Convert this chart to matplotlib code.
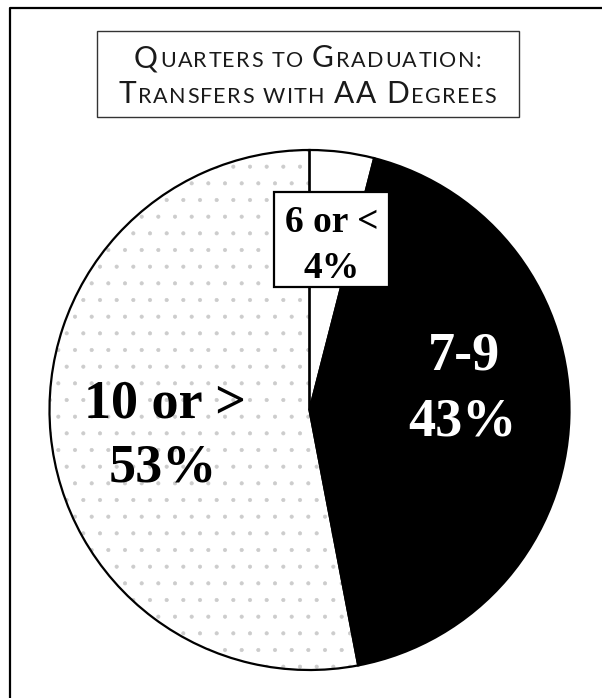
import matplotlib.pyplot as plt
from matplotlib.patches import Rectangle

# chart data
categories = ["6 or <", "7-9", "10 or >"]
shares = [4, 43, 53]
title_lines = ["Quarters to Graduation:", "Transfers with AA Degrees"]

W, H = 602, 698
plt.rcParams['hatch.color'] = '#cccccc'
plt.rcParams['hatch.linewidth'] = 0.5

fig = plt.figure(figsize=(W / 100, H / 100), dpi=100)
ax = fig.add_axes([0, 0, 1, 1])

# pie: filled wedges, then outlines on top
cx, cy, r = 309.5, H - 410, 260
wedges, _ = ax.pie(shares, colors=['white', 'black', 'white'], startangle=90,
                   counterclock=False, center=(cx, cy), radius=r,
                   wedgeprops=dict(linewidth=0))
wedges[2].set_hatch('.')
ax.pie(shares, startangle=90, counterclock=False, center=(cx, cy), radius=r,
       wedgeprops=dict(fill=False, edgecolor='black', linewidth=1.6))

ax.set_xlim(0, W)
ax.set_ylim(0, H)
ax.set_aspect('equal')
ax.axis('off')

# page frame (left and top rules)
ax.plot([9.5, 9.5, W], [0, H - 7.5, H - 7.5], color='black', lw=1.6, clip_on=False)

# title box
ax.add_patch(Rectangle((97, H - 117), 422, 86, fill=False, edgecolor='#333333', lw=1))


def small_caps(text, xc, y_base, big, small):
    # lay out a line in small caps, letter by letter, centred on xc
    rend = fig.canvas.get_renderer()
    pieces = []
    for word in text.split(' '):
        for ch in word:
            size = big if ch.isupper() else small
            pieces.append((ch.upper(), size))
        pieces.append((None, small))
    pieces = pieces[:-1]
    arts = []
    total = 0
    for s, size in pieces:
        if s is None:
            arts.append((None, size * 0.5))
            total += size * 0.5
            continue
        t = ax.text(0, y_base, s, fontsize=size, family='Lato', color='#1a1a1a',
                    ha='left', va='baseline')
        w = t.get_window_extent(rend).width * 1.1
        arts.append((t, w))
        total += w
    x = xc - total / 2
    for t, w in arts:
        if t is not None:
            t.set_x(x)
        x += w


small_caps(title_lines[0], 308, H - 67, 21.5, 15.5)
small_caps(title_lines[1], 308, H - 103, 21.5, 15.5)

# labels
lab = dict(family='Liberation Serif', fontweight='bold', ha='center', va='baseline')
ax.add_patch(Rectangle((274, H - 287), 115, 95, facecolor='white', edgecolor='black',
                       lw=1.6, zorder=3))
ax.text(332, H - 232, categories[0], fontsize=27, zorder=4, **lab)
ax.text(332, H - 278, f"{shares[0]}%", fontsize=27, zorder=4, **lab)
ax.text(464, H - 370, categories[1], fontsize=39, color='white', **lab)
ax.text(462, H - 435, f"{shares[1]}%", fontsize=39, color='white', **lab)
ax.text(165, H - 418, categories[2], fontsize=39, color='black', **lab)
ax.text(163, H - 482, f"{shares[2]}%", fontsize=39, color='black', **lab)

fig.savefig('out.png', dpi=100)
